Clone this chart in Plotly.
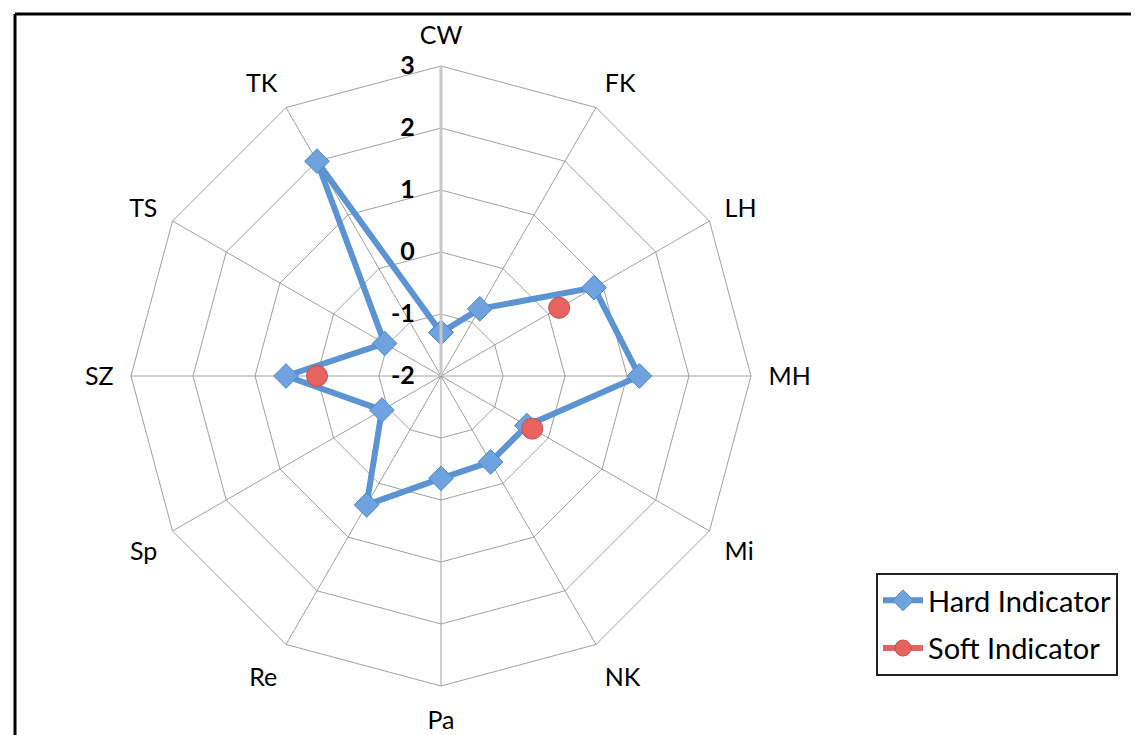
import plotly.graph_objects as go

categories = ["CW", "FK", "LH", "MH", "Mi", "NK", "Pa", "Re", "Sp", "SZ", "TS", "TK"]
hard_values = [-1.3, -0.75, 0.85, 1.2, -0.4, -0.4, -0.35, 0.4, -0.9, 0.5, -0.95, 2.0]
soft_values = [None, None, 0.2, None, -0.3, None, None, None, None, 0.0, None, None]
radial_ticks = [-2, -1, 0, 1, 2, 3]

# plotly hides markers when the radial range starts below zero on a polygon grid,
# so the axis is offset so that its minimum sits at r = 0 and ticks are relabelled
r_min = radial_ticks[0]
def shift(vals):
    return [None if v is None else v - r_min for v in vals]

W, H = 1139, 735
cx, cy, R = 433, 368, 310   # domain centre (compensated for plotly offset)

fig = go.Figure()
fig.add_trace(go.Scatterpolar(
    r=shift(hard_values + [hard_values[0]]),
    theta=categories + [categories[0]],
    mode="lines+markers",
    name="Hard Indicator",
    legendgroup="hard",
    cliponaxis=False,
    line=dict(color="#5B93D3", width=6),
    marker=dict(symbol="diamond", size=19, color="#6FA3E0",
                line=dict(color="#4F86C6", width=1)),
))
fig.add_trace(go.Scatterpolar(
    r=shift(soft_values),
    theta=categories,
    mode="lines+markers",
    connectgaps=False,
    name="Soft Indicator",
    legendgroup="soft",
    cliponaxis=False,
    line=dict(color="#E06666", width=6),
    marker=dict(symbol="circle", size=21, color="#E8625F",
                line=dict(color="#C0504D", width=1)),
))

fig.update_layout(
    width=W, height=H,
    margin=dict(l=0, r=0, t=0, b=0),
    paper_bgcolor="white",
    plot_bgcolor="white",
    font=dict(family="Lato, Open Sans, sans-serif", size=24, color="black"),
    polar=dict(
        domain=dict(x=[(cx - R) / W, (cx + R) / W],
                    y=[(H - cy - R) / H, (H - cy + R) / H]),
        bgcolor="rgba(0,0,0,0)",
        gridshape="linear",
        angularaxis=dict(
            rotation=90, direction="clockwise",
            showline=True, linecolor="#a0a0a0", linewidth=1,
            gridcolor="#a0a0a0", gridwidth=1,
            ticks="outside", ticklen=12, tickcolor="rgba(0,0,0,0)",
            tickfont=dict(size=25, family="Lato, sans-serif"),
        ),
        radialaxis=dict(
            range=[0, radial_ticks[-1] - r_min],
            tickvals=shift(radial_ticks),
            ticktext=["<b>%d</b>" % v for v in radial_ticks],
            angle=90, tickangle=90, side="counterclockwise",
            showline=True, linecolor="#c8c8c8", linewidth=3,
            gridcolor="#a0a0a0", gridwidth=1,
            ticks="outside", ticklen=16, tickcolor="rgba(0,0,0,0)",
            tickfont=dict(size=25, family="Lato, sans-serif"),
        ),
    ),
    legend=dict(
        x=868 / W, y=1 - 565 / H, xanchor="left", yanchor="top",
        bordercolor="#222", borderwidth=2, bgcolor="white",
        font=dict(size=29, family="Lato, sans-serif"),
        itemwidth=40, traceorder="grouped", tracegroupgap=7,
    ),
    showlegend=True,
    shapes=[
        dict(type="line", xref="paper", yref="paper", x0=7 / W, x1=1.01,
             y0=1 - 6 / H, y1=1 - 6 / H, line=dict(color="black", width=3)),
        dict(type="line", xref="paper", yref="paper", x0=7 / W, x1=7 / W,
             y0=1 - 6 / H, y1=-0.01, line=dict(color="black", width=3)),
    ],
)

fig.write_html("out.html")
